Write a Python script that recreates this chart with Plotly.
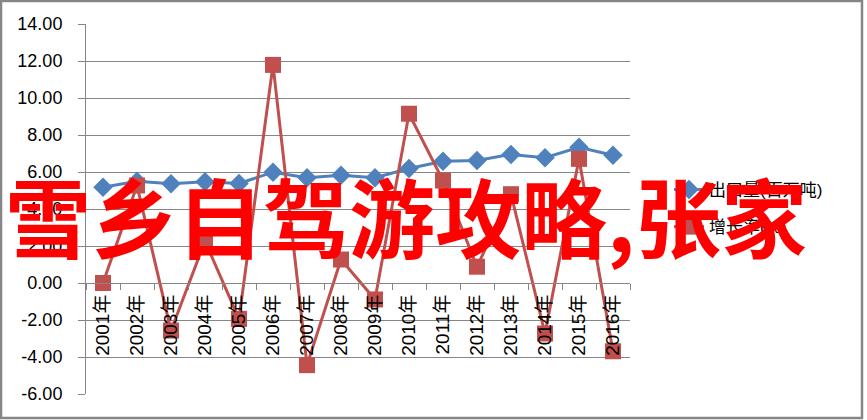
import plotly.graph_objects as go

# categories and series
years = ["2001年", "2002年", "2003年", "2004年", "2005年", "2006年", "2007年", "2008年",
         "2009年", "2010年", "2011年", "2012年", "2013年", "2014年", "2015年", "2016年"]
export_vol = [5.18, 5.50, 5.36, 5.47, 5.38, 5.99, 5.69, 5.83,
              5.69, 6.19, 6.58, 6.62, 6.95, 6.77, 7.34, 6.91]
growth = [0.00, 5.27, -2.57, 2.26, -1.94, 11.79, -4.44, 1.27,
          -0.89, 9.15, 5.54, 0.88, 4.80, -2.73, 6.71, -3.69]

y_ticks = [-6, -4, -2, 0, 2, 4, 6, 8, 10, 12, 14]
y_tick_text = ["-6.00", "-4.00", "-2.00", "0.00", "2.00", "4.00", "6.00",
               "8.00", "10.00", "12.00", "14.00"]

overlay_text = "雪乡自驾游攻略,张家"

W, H = 867, 420
L, R, T, B = 86, 237, 24, 26
pw, ph = W - L - R, H - T - B


def px_x(p):
    return (p - L) / pw


def px_y(p):
    return (H - B - p) / ph


grid = "#868686"
base_font = "Liberation Sans, Noto Sans CJK SC"

fig = go.Figure()
fig.add_trace(go.Scatter(
    x=years, y=export_vol, name="出口量(百万吨)", mode="lines+markers",
    line=dict(color="#4F81BD", width=3),
    marker=dict(symbol="diamond", size=15, color="#4F81BD"),
    legendgroup="a",
))
fig.add_trace(go.Scatter(
    x=years, y=growth, name="增长率(%)", mode="lines+markers",
    line=dict(color="#C0504D", width=3),
    marker=dict(symbol="square", size=16, color="#C0504D"),
    legendgroup="b",
))

zero_pos = (0 - y_ticks[0]) / (y_ticks[-1] - y_ticks[0])

fig.update_layout(
    width=W, height=H,
    margin=dict(l=L, r=R, t=T, b=B),
    paper_bgcolor="white", plot_bgcolor="white",
    font=dict(family=base_font, size=17, color="black"),
    xaxis=dict(
        type="category", anchor="free", position=zero_pos,
        showline=True, linecolor=grid, linewidth=1,
        ticks="outside", ticklen=6, tickcolor=grid, tickson="boundaries",
        tickangle=-90, showgrid=False, zeroline=False,
        ticklabelstandoff=3,
        tickfont=dict(size=19, family=base_font),
        range=[-0.5, len(years) - 0.5],
    ),
    yaxis=dict(
        range=[y_ticks[0], y_ticks[-1]], tickvals=y_ticks, ticktext=y_tick_text,
        showline=True, linecolor=grid, linewidth=1,
        ticks="outside", ticklen=7, tickcolor=grid,
        showgrid=True, gridcolor=grid, gridwidth=1, zeroline=False,
        ticklabelstandoff=12,
        tickfont=dict(size=18, family=base_font),
    ),
    legend=dict(
        x=px_x(669), y=px_y(172), xanchor="left", yanchor="top",
        traceorder="grouped", tracegroupgap=12,
        font=dict(size=17, family=base_font),
        bgcolor="rgba(0,0,0,0)",
    ),
    shapes=[dict(
        type="rect", xref="paper", yref="paper",
        x0=px_x(1), x1=px_x(862), y0=px_y(418), y1=px_y(1),
        line=dict(color=grid, width=2.5), layer="below",
    )],
    annotations=[dict(
        text="<b>" + overlay_text + "</b>", xref="paper", yref="paper",
        x=px_x(406), y=px_y(214), xanchor="center", yanchor="middle",
        showarrow=False,
        font=dict(size=86, color="#FF0000", family="Noto Sans CJK SC"),
    )],
)

fig.write_html("out.html", config={"displayModeBar": False},
               post_script="document.body.style.margin='0';")
